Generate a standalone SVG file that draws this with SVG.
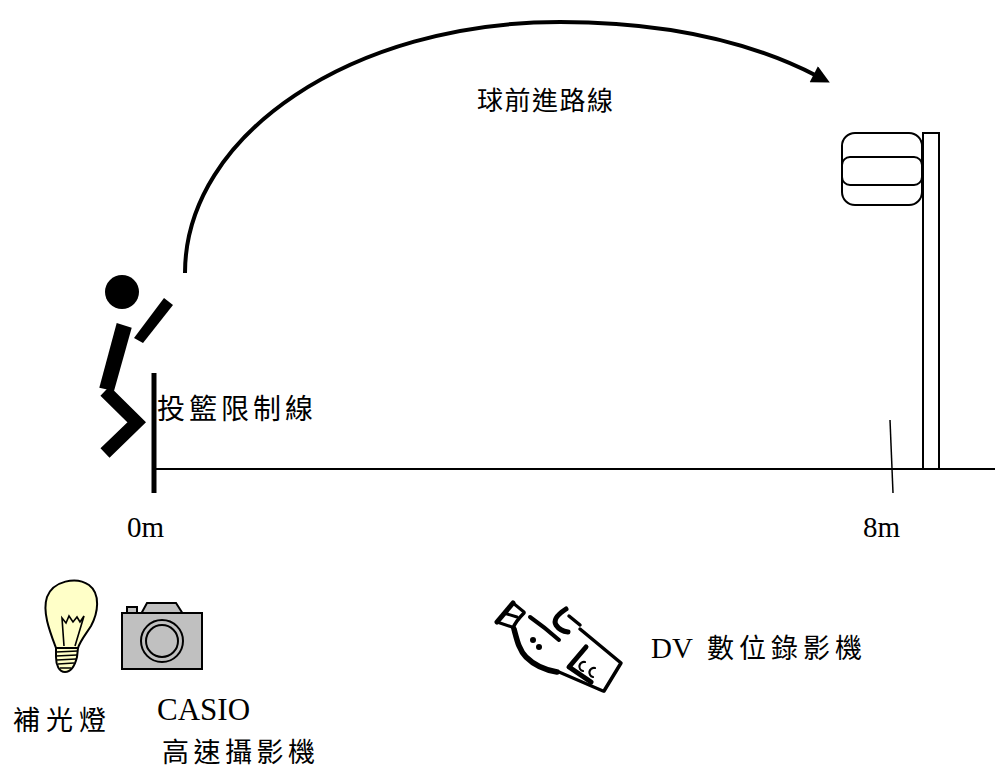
<svg xmlns="http://www.w3.org/2000/svg" width="995" height="772" viewBox="0 0 995 772">
  <style>
    .cjk { font-family: "Noto Sans CJK TC", "Noto Sans CJK SC", sans-serif; fill: #000; }
    .lat { font-family: "Liberation Serif", serif; fill: #000; }
    .ink { stroke: #000; fill: none; }
    .solid { fill: #000; stroke: none; }
    .paper { fill: #fff; stroke: #000; }
    .bulb { fill: #FFFFC8; stroke: #000; }
    .body { fill: #C0C0C0; stroke: #000; }
  </style>
  <defs>
    <marker id="arrow" viewBox="0 0 10 10" refX="2" refY="5" markerWidth="5.5" markerHeight="4.5" orient="auto" markerUnits="strokeWidth">
      <path d="M0,0 L10,5 L0,10 Z" fill="#000"/>
    </marker>
  </defs>
  <rect width="995" height="772" fill="#fff"/>

  <!-- ball flight path -->
  <g id="connectors">
    <path class="ink" stroke-width="4" d="M185,273 C185,134 353,22 560,22 C675,22 755,44 817,76" marker-end="url(#arrow)"/>
  </g>
  <text class="cjk" x="477" y="110" font-size="26" letter-spacing="1.5">球前進路線</text>

  <!-- jumping shooter -->
  <g id="shooter">
    <circle class="solid" cx="122" cy="292" r="17"/>
    <polygon class="solid" points="164,298 173,305 143,343 134,338"/>
    <polygon class="solid" points="116.7,323 131.7,327.7 114,391 99.3,387.7"/>
    <polyline class="ink" stroke-width="13" stroke-linejoin="miter" points="105,391 136.7,422.3 105,453"/>
  </g>

  <!-- court: shooting line, floor, 8 m mark -->
  <g id="court">
    <line class="ink" stroke-width="5" x1="154" y1="373" x2="154" y2="493"/>
    <line class="ink" stroke-width="2" x1="154" y1="469" x2="995" y2="469"/>
    <line class="ink" stroke-width="1.5" x1="890" y1="420" x2="893" y2="493"/>
    <text class="cjk" x="157" y="419" font-size="28" letter-spacing="4">投籃限制線</text>
    <text class="lat" x="127" y="537" font-size="29">0m</text>
    <text class="lat" x="863" y="537" font-size="29">8m</text>
  </g>

  <!-- target stand -->
  <g id="target" stroke-width="2">
    <rect class="paper" x="923" y="133" width="16" height="336"/>
    <rect class="paper" x="842" y="133" width="80" height="72" rx="13"/>
    <rect class="ink" x="842" y="157" width="80" height="28" rx="8"/>
  </g>

  <!-- fill light -->
  <g id="fill-light">
    <path class="bulb" stroke-width="2" d="M56,648 C50,632 42,612 47,597 C53,581 76,576 89,585 C101,594 98,613 91,626 C86,634 80,641 78,648 Z"/>
    <path class="bulb" stroke-width="2" d="M56,648 L78,648 L77,657 C75,665 71,672 65,672 C59,672 56,665 56,657 Z"/>
    <path class="ink" stroke-width="1.6" d="M56,652 L78,651 M56,656 L77,655 M57,660 L76,659 M58,664 L74,663 M60,668 L71,668"/>
    <path class="ink" stroke-width="1.6" d="M64,646 L62,618 L66,623 L69,616 L73,622 L77,617 L80,622 L84,616 L75,646"/>
  </g>
  <text class="cjk" x="13" y="730" font-size="27" letter-spacing="6">補光燈</text>

  <!-- high-speed camera -->
  <g id="casio-camera" stroke-width="2">
    <rect class="body" x="127" y="607" width="10" height="7"/>
    <polygon class="body" points="141,614 147,603 176,603 183,614"/>
    <rect class="body" x="122" y="613" width="80" height="56"/>
    <circle class="body" cx="162" cy="641" r="21"/>
    <circle class="body" cx="162" cy="641" r="16"/>
  </g>
  <text class="lat" x="157" y="720" font-size="31">CASIO</text>
  <text class="cjk" x="162" y="762" font-size="27" letter-spacing="4.5">高速攝影機</text>

  <!-- DV camcorder -->
  <g id="dv-camera" class="ink" stroke-linecap="round" stroke-linejoin="round">
    <path stroke-width="5" d="M513,603 L497,622"/>
    <path stroke-width="3" d="M513,603 L524,612 M504,613 L517,617 M497,622 L512,627"/>
    <path stroke-width="3.5" d="M524,613 C519,618 515,623 513,628"/>
    <path stroke-width="4" d="M530,617 C540,624 550,632 559,640"/>
    <path stroke-width="5.5" d="M514,629 C517,640 519,650 526,657 C535,666 545,670 557,672"/>
    <circle class="solid" cx="533" cy="640" r="3"/>
    <circle class="solid" cx="539" cy="647" r="3"/>
    <path stroke-width="5" d="M566,609 Q552,618 556,625 Q560,631 568,632"/>
    <path stroke-width="3.5" d="M569,616 L580,625"/>
    <path stroke-width="3.5" d="M580,629 L621,663 L604,691"/>
    <path stroke-width="3" d="M559,672 L603,691"/>
    <path stroke-width="5" d="M586,647 L569,667 L591,682"/>
    <path stroke-width="2.2" d="M585,662 A4,4 0 1,0 583,671 M595,668 A4,4 0 1,0 593,677"/>
  </g>
  <text x="651" y="658"><tspan class="lat" font-size="29">DV</tspan><tspan class="cjk" x="707" font-size="27" letter-spacing="5">數位錄影機</tspan></text>
</svg>
